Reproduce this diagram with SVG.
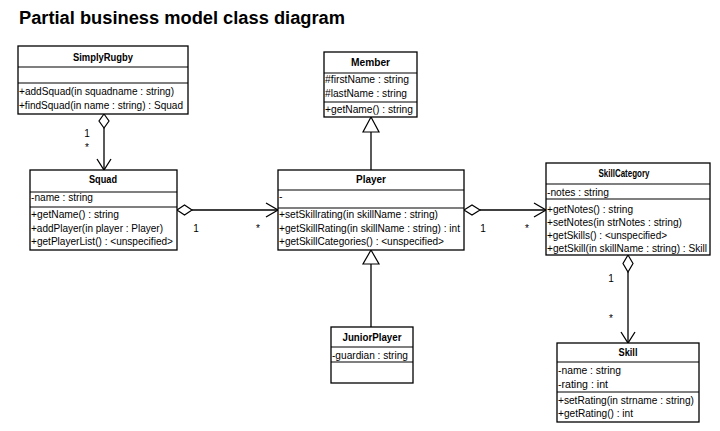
<svg xmlns="http://www.w3.org/2000/svg" width="720" height="431" viewBox="0 0 720 431">
<style>
.box{fill:#fff;stroke:#000;stroke-width:1.3}
.div{stroke:#000;stroke-width:1.1}
.t{font-family:"Liberation Sans",Arial,sans-serif;font-size:10.5px;fill:#000}
.h{font-family:"Liberation Sans",Arial,sans-serif;font-size:10.5px;font-weight:bold;fill:#000;text-anchor:middle}
.lbl{font-family:"Liberation Sans",Arial,sans-serif;font-size:10px;fill:#000;text-anchor:middle}
.ln{fill:none;stroke:#000;stroke-width:1.3}
.dia{fill:#fff;stroke:#000;stroke-width:1.2}
.tri{fill:#fff;stroke:#000;stroke-width:1.2}
</style>
<rect width="720" height="431" fill="#fff"/>
<text x="19" y="24" font-family="Liberation Sans,Arial,sans-serif" font-size="17.5" font-weight="bold" textLength="326" lengthAdjust="spacingAndGlyphs">Partial business model class diagram</text>

<g id="connectors">
  <!-- SimplyRugby to Squad -->
  <line class="ln" x1="104" y1="128" x2="104" y2="170"/>
  <polygon class="dia" points="104,114 109,121 104,128 99,121"/>
  <polyline class="ln" points="97,159 104,170 111,159"/>
  <text class="lbl" x="87" y="137">1</text>
  <text class="lbl" x="87" y="151">*</text>
  <!-- Squad to Player -->
  <line class="ln" x1="192" y1="210" x2="278" y2="210"/>
  <polygon class="dia" points="177,210 184.5,205 192,210 184.5,215"/>
  <polyline class="ln" points="266,203 278,210 266,217"/>
  <text class="lbl" x="196" y="232">1</text>
  <text class="lbl" x="258" y="232">*</text>
  <!-- Player to SkillCategory -->
  <line class="ln" x1="480" y1="210" x2="546" y2="210"/>
  <polygon class="dia" points="464,210 472,205 480,210 472,215"/>
  <polyline class="ln" points="534,203 546,210 534,217"/>
  <text class="lbl" x="483" y="232">1</text>
  <text class="lbl" x="527" y="232">*</text>
  <!-- SkillCategory to Skill -->
  <line class="ln" x1="628" y1="272" x2="628" y2="343"/>
  <polygon class="dia" points="628,255 633,263.5 628,272 623,263.5"/>
  <polyline class="ln" points="621,332 628,343 635,332"/>
  <text class="lbl" x="611" y="282">1</text>
  <text class="lbl" x="611" y="322">*</text>
  <!-- Player generalizes Member -->
  <line class="ln" x1="371" y1="132" x2="371" y2="170"/>
  <polygon class="tri" points="371,117 379,132 363,132"/>
  <!-- JuniorPlayer generalizes Player -->
  <line class="ln" x1="371" y1="264" x2="371" y2="327"/>
  <polygon class="tri" points="371,250 379,264 363,264"/>
</g>

<g id="SimplyRugby">
  <rect class="box" x="18" y="46" width="170" height="68"/>
  <line class="div" x1="18" y1="67" x2="188" y2="67"/>
  <line class="div" x1="18" y1="83" x2="188" y2="83"/>
  <text class="h" x="103" y="60.5" textLength="60" lengthAdjust="spacingAndGlyphs">SimplyRugby</text>
  <text class="t" x="19" y="95" textLength="155" lengthAdjust="spacingAndGlyphs">+addSquad(in squadname : string)</text>
  <text class="t" x="19" y="109" textLength="164" lengthAdjust="spacingAndGlyphs">+findSquad(in name : string) : Squad</text>
</g>

<g id="Squad">
  <rect class="box" x="30" y="170" width="147" height="80"/>
  <line class="div" x1="30" y1="192" x2="177" y2="192"/>
  <line class="div" x1="30" y1="207" x2="177" y2="207"/>
  <text class="h" x="103" y="182.5" textLength="28" lengthAdjust="spacingAndGlyphs">Squad</text>
  <text class="t" x="31" y="200.5" textLength="62" lengthAdjust="spacingAndGlyphs">-name : string</text>
  <text class="t" x="31" y="217.5" textLength="88" lengthAdjust="spacingAndGlyphs">+getName() : string</text>
  <text class="t" x="31" y="231.5" textLength="132" lengthAdjust="spacingAndGlyphs">+addPlayer(in player : Player)</text>
  <text class="t" x="31" y="245" textLength="142" lengthAdjust="spacingAndGlyphs">+getPlayerList() : &lt;unspecified&gt;</text>
</g>

<g id="Member">
  <rect class="box" x="324" y="52" width="93" height="65"/>
  <line class="div" x1="324" y1="73" x2="417" y2="73"/>
  <line class="div" x1="324" y1="102" x2="417" y2="102"/>
  <text class="h" x="370.5" y="65.5" textLength="39" lengthAdjust="spacingAndGlyphs">Member</text>
  <text class="t" x="325" y="82.5" textLength="84" lengthAdjust="spacingAndGlyphs">#firstName : string</text>
  <text class="t" x="325" y="96.5" textLength="82" lengthAdjust="spacingAndGlyphs">#lastName : string</text>
  <text class="t" x="325" y="112.5" textLength="88" lengthAdjust="spacingAndGlyphs">+getName() : string</text>
</g>

<g id="Player">
  <rect class="box" x="278" y="170" width="186" height="80"/>
  <line class="div" x1="278" y1="190" x2="464" y2="190"/>
  <line class="div" x1="278" y1="208" x2="464" y2="208"/>
  <text class="h" x="371" y="182.5" textLength="30" lengthAdjust="spacingAndGlyphs">Player</text>
  <text class="t" x="279" y="200">-</text>
  <text class="t" x="279" y="217.5" textLength="159" lengthAdjust="spacingAndGlyphs">+setSkillrating(in skillName : string)</text>
  <text class="t" x="279" y="231.5" textLength="181" lengthAdjust="spacingAndGlyphs">+getSkillRating(in skillName : string) : int</text>
  <text class="t" x="279" y="244.5" textLength="165" lengthAdjust="spacingAndGlyphs">+getSkillCategories() : &lt;unspecified&gt;</text>
</g>

<g id="SkillCategory">
  <rect class="box" x="546" y="163" width="164" height="92"/>
  <line class="div" x1="546" y1="184" x2="710" y2="184"/>
  <line class="div" x1="546" y1="199" x2="710" y2="199"/>
  <text class="h" x="624" y="176.5" textLength="51" lengthAdjust="spacingAndGlyphs">SkillCategory</text>
  <text class="t" x="547" y="195.5" textLength="62" lengthAdjust="spacingAndGlyphs">-notes : string</text>
  <text class="t" x="547" y="212.5" textLength="86" lengthAdjust="spacingAndGlyphs">+getNotes() : string</text>
  <text class="t" x="547" y="225.5" textLength="135" lengthAdjust="spacingAndGlyphs">+setNotes(in strNotes : string)</text>
  <text class="t" x="547" y="238.5" textLength="120" lengthAdjust="spacingAndGlyphs">+getSkills() : &lt;unspecified&gt;</text>
  <text class="t" x="547" y="251.5" textLength="160" lengthAdjust="spacingAndGlyphs">+getSkill(in skillName : string) : Skill</text>
</g>

<g id="Skill">
  <rect class="box" x="557" y="343" width="142" height="79"/>
  <line class="div" x1="557" y1="362" x2="699" y2="362"/>
  <line class="div" x1="557" y1="392" x2="699" y2="392"/>
  <text class="h" x="628" y="355.5" textLength="19" lengthAdjust="spacingAndGlyphs">Skill</text>
  <text class="t" x="558" y="373.5" textLength="63" lengthAdjust="spacingAndGlyphs">-name : string</text>
  <text class="t" x="558" y="387.5" textLength="50" lengthAdjust="spacingAndGlyphs">-rating : int</text>
  <text class="t" x="558" y="403.5" textLength="136" lengthAdjust="spacingAndGlyphs">+setRating(in strname : string)</text>
  <text class="t" x="558" y="416.5" textLength="75" lengthAdjust="spacingAndGlyphs">+getRating() : int</text>
</g>

<g id="JuniorPlayer">
  <rect class="box" x="331" y="327" width="82" height="56"/>
  <line class="div" x1="331" y1="347" x2="413" y2="347"/>
  <line class="div" x1="331" y1="362" x2="413" y2="362"/>
  <text class="h" x="372" y="340.5" textLength="59" lengthAdjust="spacingAndGlyphs">JuniorPlayer</text>
  <text class="t" x="332" y="358.5" textLength="76" lengthAdjust="spacingAndGlyphs">-guardian : string</text>
</g>
</svg>
